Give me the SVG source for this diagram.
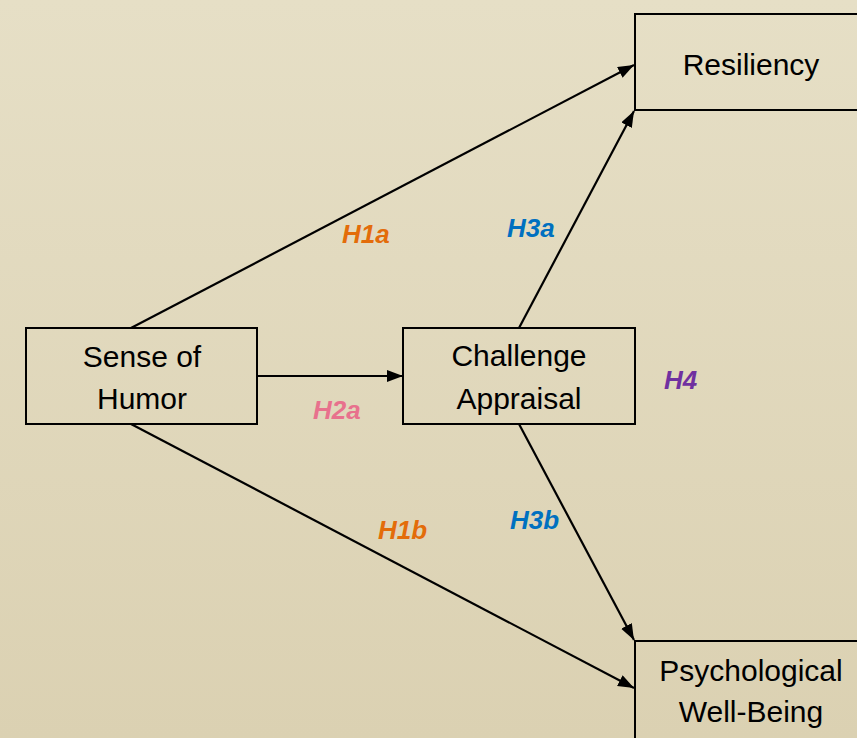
<svg xmlns="http://www.w3.org/2000/svg" width="857" height="738" viewBox="0 0 857 738">
<defs>
<linearGradient id="bg" x1="0" y1="0" x2="0" y2="1">
<stop offset="0" stop-color="#e6dfc6"/>
<stop offset="1" stop-color="#dbd1b2"/>
</linearGradient>
<marker id="arr" markerUnits="userSpaceOnUse" markerWidth="18" markerHeight="14" refX="16" refY="6" orient="auto">
<path d="M0,0 L16,6 L0,12 z" fill="#000"/>
</marker>
<style>
.box{fill:none;stroke:#000;stroke-width:2}
.t{font-family:"Liberation Sans",Arial,sans-serif;font-size:30px;fill:#000;text-anchor:middle}
.h{font-family:"Liberation Sans",Arial,sans-serif;font-size:26px;font-weight:bold;font-style:italic}
.c{stroke:#000;stroke-width:2.2;fill:none;marker-end:url(#arr)}
</style>
</defs>
<rect x="0" y="0" width="857" height="738" fill="url(#bg)"/>
<g id="connectors">
<line class="c" x1="131" y1="328" x2="634" y2="65"/>
<line class="c" x1="131" y1="424" x2="634" y2="688"/>
<line class="c" x1="257" y1="376" x2="403" y2="376"/>
<line class="c" x1="519" y1="328" x2="634" y2="111"/>
<line class="c" x1="519" y1="424" x2="634" y2="640"/>
</g>
<g id="resiliency">
<rect class="box" x="635" y="14" width="240" height="96"/>
<text class="t" x="751" y="75">Resiliency</text>
</g>
<g id="wellbeing">
<rect class="box" x="635" y="641" width="240" height="110"/>
<text class="t" x="751" y="681">Psychological</text>
<text class="t" x="751" y="722">Well-Being</text>
</g>
<g id="humor">
<rect class="box" x="26" y="328" width="231" height="96"/>
<text class="t" x="142" y="367">Sense of</text>
<text class="t" x="142" y="409">Humor</text>
</g>
<g id="challenge">
<rect class="box" x="403" y="328" width="232" height="96"/>
<text class="t" x="519" y="366">Challenge</text>
<text class="t" x="519" y="409">Appraisal</text>
</g>
<g id="labels">
<text class="h" x="342" y="243" fill="#e36c0a">H1a</text>
<text class="h" x="507" y="237" fill="#0070c0">H3a</text>
<text class="h" x="313" y="419" fill="#e8718d">H2a</text>
<text class="h" x="664" y="389" fill="#7030a0">H4</text>
<text class="h" x="378" y="539" fill="#e36c0a">H1b</text>
<text class="h" x="510" y="529" fill="#0070c0">H3b</text>
</g>
</svg>
